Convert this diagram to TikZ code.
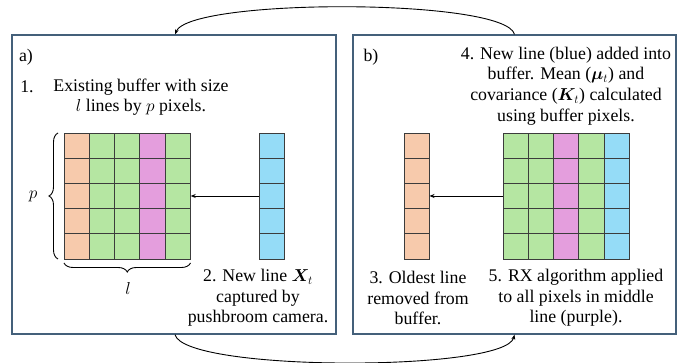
\documentclass[tikz,border=0pt]{standalone}
\usepackage{amsmath}
\usepackage{bm}
\usepackage{fontspec}
\setmainfont{Liberation Serif}
\newfontfamily\tnr{Liberation Serif}
\usetikzlibrary{decorations.pathreplacing,arrows.meta}
\definecolor{pxorange}{HTML}{F7CAAC}
\definecolor{pxgreen}{HTML}{B5E6A2}
\definecolor{pxpurple}{HTML}{E49EDD}
\definecolor{pxblue}{HTML}{95DCF7}
\definecolor{panelline}{HTML}{44607A}
\definecolor{cellline}{HTML}{3C3C3C}
\newcommand\pixcol[2]{% x-left, colour
  \fill[#2] (#1,133) rectangle ++(25.3,126);
  \foreach \r in {0,...,4}{\draw[cellline,line width=0.9pt] (#1,133+25.2*\r) rectangle ++(25.3,25.2);}
}
\tikzset{
  panel/.style={draw=panelline,line width=1.4pt,fill=none},
  txt/.style={font=\tnr\fontsize{17.8}{20.6}\selectfont,align=center,inner sep=0pt},
  flow/.style={-{Stealth[length=5pt,width=4pt]},line width=0.9pt,black},
  push/.style={-{Stealth[length=5pt,width=4pt]},line width=0.8pt,black},
  brc/.style={decorate,decoration={brace,amplitude=9pt},line width=0.9pt},
}
\begin{document}
\begin{tikzpicture}[x=1pt,y=-1pt]
\useasboundingbox (0,0) rectangle (691,363);
% panels
\node[panel,minimum width=324pt,minimum height=299pt,inner sep=0pt] (pa) at (174,184.5) {};
\node[panel,minimum width=323pt,minimum height=299pt,inner sep=0pt] (pb) at (514.5,184.5) {};
% panel a grid
\pixcol{64}{pxorange}
\pixcol{89.3}{pxgreen}
\pixcol{114.6}{pxgreen}
\pixcol{139.9}{pxpurple}
\pixcol{165.2}{pxgreen}
\pixcol{259.5}{pxblue}
\node[minimum width=126.5pt,minimum height=126pt,inner sep=0pt] (ga) at (127.25,196) {};
\node[minimum width=25.3pt,minimum height=126pt,inner sep=0pt] (ba) at (272.15,196) {};
\draw[push] (ba.west) -- (ga.east);
% braces
\draw[brc] (58,259) -- (58,133);
\draw[brc] (190.5,263) -- (64,263);
\node[txt] (plab) at (33,196) {$p$};
\node[txt] (llab) at (128,289) {$l$};
% panel a text
\node[txt] (alab) at (26,57) {a)};
\node[txt] (n1) at (27,87) {1.};
\node[txt] (t1) at (141,97) {Existing buffer with size\\ $l$ lines by $p$ pixels.};
\node[txt] (t2) at (258,298) {2. New line $\bm{X}_t$\\ captured by\\ pushbroom camera.};
% panel b grid
\pixcol{404}{pxorange}
\pixcol{503}{pxgreen}
\pixcol{528.3}{pxgreen}
\pixcol{553.6}{pxpurple}
\pixcol{578.9}{pxgreen}
\pixcol{604.2}{pxblue}
\node[minimum width=25.3pt,minimum height=126pt,inner sep=0pt] (ob) at (416.65,196) {};
\node[minimum width=126.5pt,minimum height=126pt,inner sep=0pt] (gb) at (566.25,196) {};
\draw[push] (gb.west) -- (ob.east);
% panel b text
\node[txt] (blab) at (371,57) {b)};
\node[txt] (t4) at (566,86) {4. New line (blue) added into\\ buffer. Mean ($\bm{\mu}_t$) and\\ covariance ($\bm{K}_t$) calculated\\ using buffer pixels.};
\node[txt] (t3) at (418,298) {3. Oldest line\\ removed from\\ buffer.};
\node[txt] (t5) at (576,298) {5. RX algorithm applied\\ to all pixels in middle\\ line (purple).};
% flow arrows
\coordinate (atop) at ([xshift=1pt]pa.north);
\coordinate (btop) at (pb.north);
\coordinate (abot) at ([xshift=1pt]pa.south);
\coordinate (bbot) at (pb.south);
\draw[flow] (btop) .. controls (505,-2) and (190,-2) .. (atop);
\draw[flow] (abot) .. controls (185,372) and (505,372) .. (bbot);
\end{tikzpicture}
\end{document}
